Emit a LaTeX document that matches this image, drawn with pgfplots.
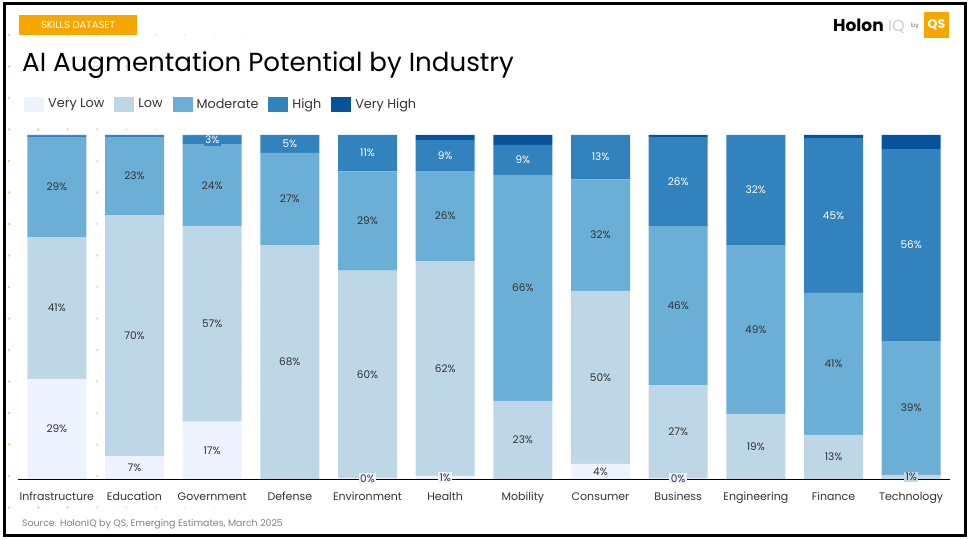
\documentclass[border=0pt]{standalone}
\usepackage{pgfplots}
\pgfplotsset{compat=1.18}
\usepackage{pgfplotstable}
\usepackage{fontspec}
\setmainfont{Poppins}

\definecolor{vlow}{HTML}{EFF3FF}
\definecolor{low}{HTML}{BDD7E7}
\definecolor{mode}{HTML}{6BAED6}
\definecolor{high}{HTML}{3182BD}
\definecolor{vhigh}{HTML}{08519C}
\definecolor{qsorange}{HTML}{F7A800}
\definecolor{txt}{HTML}{333333}
\definecolor{dotc}{HTML}{F8BF55}

% shares in percent, one row per industry
\pgfplotstableread{
x  vl    lo    mo    hi    vh
0  29.1  41.2  29.1  0.4   0.2
1  6.6   70.1  22.7  0.6   0
2  16.7  56.9  23.6  2.6   0.2
3  0     68.0  26.8  5.2   0
4  0.3   60.3  28.8  10.6  0
5  0.9   62.4  26.2  9.0   1.5
6  0     22.7  65.7  8.7   2.9
7  4.4   50.3  32.4  12.9  0
8  0.2   27.1  46.2  25.9  0.6
9  0     18.9  49.1  32.0  0
10 0     12.8  41.3  45.0  0.9
11 0     1.2   38.9  55.8  4.1
}\skills

\pgfplotsset{
  frame/.style={
    at={(18pt,61pt)}, anchor=south west,
    scale only axis, width=932pt, height=344pt,
    xmin=-0.5, xmax=11.5, ymin=0, ymax=100,
    clip=false,
  },
  lab/.style={
    only marks, mark=*, mark size=0pt, mark options={draw=none, fill=none},
    nodes near coords={\pgfmathprintnumber[fixed, precision=0, assume math mode=true]{\pgfplotspointmeta}\%},
    every node near coord/.append style={anchor=center, fill=#1, inner sep=1.5pt,
      font=\fontsize{10.5}{12}\selectfont, text=txt},
  },
}

\begin{document}
\begin{tikzpicture}[x=1pt, y=1pt]
\path[use as bounding box] (0,0) rectangle (969,540);

% faded dot pattern in the background
\foreach \i in {0,...,9} {
  \foreach \j in {0,...,15} {
    \pgfmathsetmacro\op{max(0, 0.8-0.09*\i)}
    \fill[dotc, opacity=\op] (9+29.3*\i, 505-31.5*\j) circle (1.4);
  }
}

\begin{axis}[
  frame,
  ybar stacked,
  bar width=59pt,
  axis x line*=bottom,
  axis y line=none,
  x axis line style={black, line width=0.8pt},
  xtick={0,...,11},
  xticklabels={Infrastructure, Education, Government, Defense, Environment,
    Health, Mobility, Consumer, Business, Engineering, Finance, Technology},
  major tick length=0pt,
  xticklabel style={font=\fontsize{11}{12}\selectfont, text=txt, yshift=-10pt},
  legend style={draw=none, fill=none, at={(0,1)}, anchor=south west,
    xshift=3pt, yshift=21pt, legend columns=-1,
    font=\fontsize{12.8}{15}\selectfont, text=txt,
    /tikz/every odd column/.append style={column sep=2pt},
    /tikz/every even column/.append style={column sep=8pt}},
  legend image code/.code={\fill[#1, draw=none] (0pt,-7.5pt) rectangle (20pt,7.5pt);},
]
\addplot[fill=vlow, draw=none] table[x=x, y=vl] {\skills};
\addplot[fill=low, draw=none] table[x=x, y=lo] {\skills};
\addplot[fill=mode, draw=none] table[x=x, y=mo] {\skills};
\addplot[fill=high, draw=none] table[x=x, y=hi] {\skills};
\addplot[fill=vhigh, draw=none] table[x=x, y=vh] {\skills};
\legend{Very Low, Low, Moderate, High, Very High}
\end{axis}

% segment labels, centred in each segment
\begin{axis}[frame, hide axis]
\addplot[lab=vlow, point meta=\thisrow{vl},
  restrict expr to domain={\thisrow{vl}}{0.05:1000}]
  table[x=x, y expr=\thisrow{vl}/2] {\skills};
\addplot[lab=low, point meta=\thisrow{lo},
  restrict expr to domain={\thisrow{lo}}{0.05:1000}]
  table[x=x, y expr=\thisrow{vl}+\thisrow{lo}/2] {\skills};
\addplot[lab=mode, point meta=\thisrow{mo},
  restrict expr to domain={\thisrow{mo}}{0.05:1000}]
  table[x=x, y expr=\thisrow{vl}+\thisrow{lo}+\thisrow{mo}/2] {\skills};
\addplot[lab=high, point meta=\thisrow{hi},
  every node near coord/.append style={text=white},
  restrict expr to domain={\thisrow{hi}}{1:1000}]
  table[x=x, y expr=\thisrow{vl}+\thisrow{lo}+\thisrow{mo}+\thisrow{hi}/2] {\skills};
\end{axis}

% header
\fill[qsorange] (19,505) rectangle (137,525);
\node[text=white, font=\fontsize{10}{12}\selectfont] at (78,515) {SKILLS DATASET};
\node[anchor=base west, inner sep=0, font=\fontsize{26.1}{30}\selectfont] at (22,468)
  {AI Augmentation Potential by Industry};

% logo
\node[anchor=base west, inner sep=0, font=\bfseries\fontsize{17}{18}\selectfont] at (833,508) {Holon};
\node[anchor=base west, inner sep=0, text=black!20, font=\fontsize{16}{18}\selectfont] at (888,508) {IQ};
\node[anchor=base west, inner sep=0, text=black!60, font=\fontsize{6}{7}\selectfont] at (911,512) {by};
\fill[qsorange] (924,502) rectangle (949,528);
\node[text=white, font=\bfseries\fontsize{12.5}{14}\selectfont] at (936.5,515) {QS};

% source
\node[anchor=base west, inner sep=0, text=black!50, font=\fontsize{9.4}{11}\selectfont] at (22,13)
  {Source. HolonIQ by QS, Emerging Estimates, March 2025};

% frame
\draw[line width=3pt] (4,4) rectangle (965,536);
\end{tikzpicture}
\end{document}
